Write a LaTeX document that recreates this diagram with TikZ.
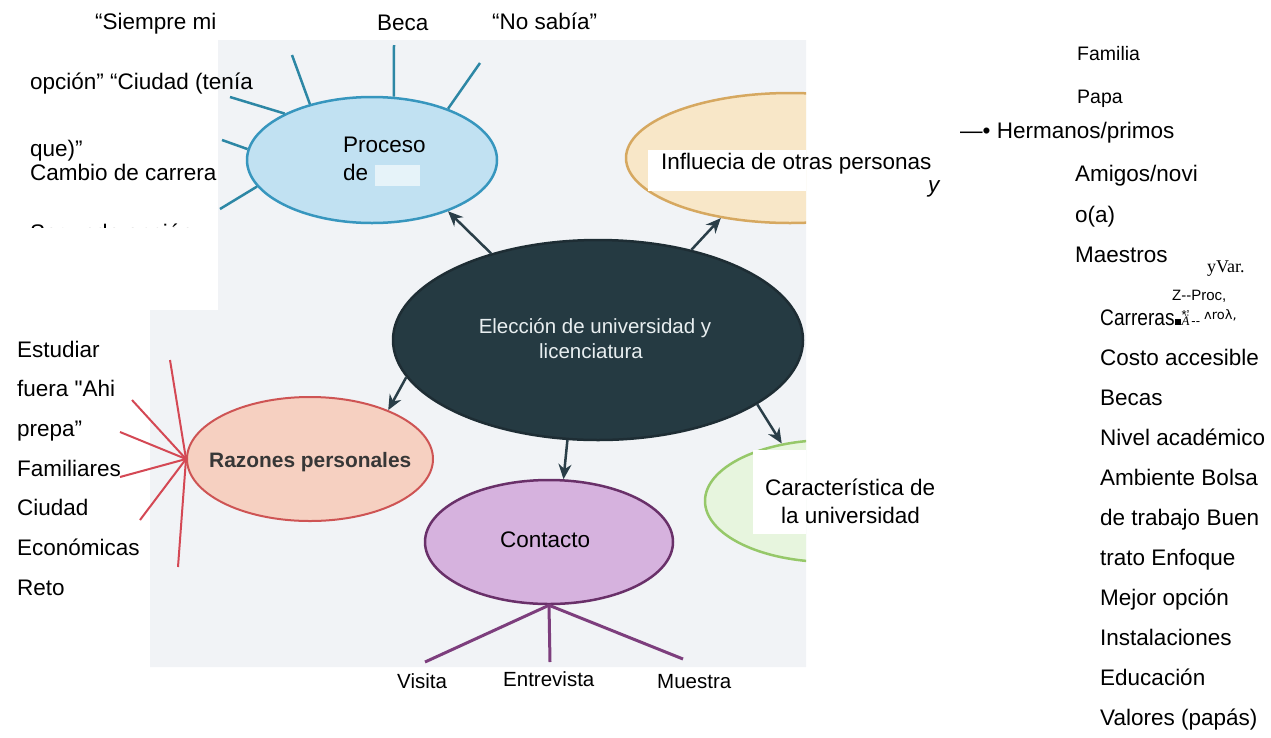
\documentclass[tikz,border=0pt]{standalone}
\usepackage{fontspec}
\setmainfont{Liberation Sans}
\newfontfamily\timesfont{Liberation Serif}
\newfontfamily\dejavufont{DejaVu Sans}
\usetikzlibrary{arrows.meta,shapes.geometric}

\definecolor{scan}{RGB}{241,243,246}
\definecolor{procfill}{RGB}{193,225,242}
\definecolor{procline}{RGB}{55,150,190}
\definecolor{procspk}{RGB}{45,135,165}
\definecolor{inflfill}{RGB}{248,231,200}
\definecolor{inflline}{RGB}{214,168,96}
\definecolor{darkfill}{RGB}{37,58,66}
\definecolor{darkline}{RGB}{30,45,52}
\definecolor{arrowc}{RGB}{42,62,72}
\definecolor{razfill}{RGB}{246,208,193}
\definecolor{razline}{RGB}{206,84,84}
\definecolor{razspk}{RGB}{212,72,84}
\definecolor{contfill}{RGB}{214,178,222}
\definecolor{contline}{RGB}{105,48,105}
\definecolor{contspk}{RGB}{125,62,125}
\definecolor{carfill}{RGB}{231,245,222}
\definecolor{carline}{RGB}{150,200,105}
\definecolor{electext}{RGB}{232,238,240}
\definecolor{raztext}{RGB}{55,55,55}

\tikzset{
  txt/.style={anchor=base west, inner sep=0pt, font=\fontsize{22.5}{27}\selectfont},
  smtxt/.style={txt, font=\fontsize{20.5}{25}\selectfont},
  blob/.style={ellipse, draw, line width=2.5pt, inner sep=0pt},
  conn/.style={line width=2.5pt, draw=arrowc, -{Stealth[length=15pt,width=13pt]}},
}

\begin{document}
\begin{tikzpicture}[x=1pt,y=-1pt]
  \useasboundingbox (0,0) rectangle (1271,737);
  % scanned page behind the map
  \fill[scan] (218,40) -- (806,40) -- (806,667) -- (150,667) -- (150,310) -- (218,310) -- cycle;

  % bubbles
  \node[blob, fill=procfill, draw=procline, minimum width=250pt, minimum height=126pt] (proc) at (372,160) {};
  \node[blob, fill=darkfill, draw=darkline, minimum width=410pt, minimum height=200pt] (elec) at (598,340) {};
  \node[blob, fill=razfill, draw=razline, line width=2pt, minimum width=246pt, minimum height=124pt] (razon) at (310,459) {};
  \node[blob, fill=contfill, draw=contline, minimum width=248pt, minimum height=124pt] (cont) at (549,542) {};
  \begin{scope}
    \clip (0,0) rectangle (806,737);
    \node[blob, fill=inflfill, draw=inflline, minimum width=328pt, minimum height=130pt] (infl) at (790,158) {};
    \node[blob, fill=carfill, draw=carline, minimum width=250pt, minimum height=122pt] (carac) at (830,501) {};
    \fill[white] (648,150) rectangle (806,191);
    \fill[white] (753,450) rectangle (806,534);
  \end{scope}
  \fill[white, opacity=0.6] (375,165) rectangle (420,186);

  % arrows from the centre
  \draw[conn] (elec.141) -- (proc.-34);
  \draw[conn] (elec.44) -- (infl.221);
  \draw[conn] (elec.191) -- (razon.32);
  \draw[conn] (elec.253) -- (cont.77);
  \draw[conn] (elec.-22) -- (carac.130);

  % spokes
  \foreach \a/\ex/\ey [count=\k] in {152/230/97, 138/292/55, 71/394/45, 34/480/63, 175/222/140, 193/220/209} {
    \coordinate (ps\k) at (\ex,\ey);
    \draw[procspk, line width=2.5pt] (proc.\a) -- (ps\k);
  }
  \foreach \ex/\ey [count=\k] in {170/360, 132/400, 120/432, 120/477, 140/520, 178/567} {
    \coordinate (rs\k) at (\ex,\ey);
    \draw[razspk, line width=2pt] (razon.west) -- (rs\k);
  }
  \foreach \ex/\ey [count=\k] in {425/662, 550/662, 683/659} {
    \coordinate (cs\k) at (\ex,\ey);
    \draw[contspk, line width=3pt] (cont.south) -- (cs\k);
  }

  % texts in the bubbles
  \node[txt] (procA) at (343,152) {Proceso};
  \node[txt] (procB) at (343,180) {de};
  \node[txt] (inflT) at (661,169) {Influecia de otras personas};
  \node[txt, font=\fontsize{22.5}{27}\selectfont\itshape] (yT) at (928,192) {y};
  \node[anchor=base, inner sep=0pt, font=\fontsize{20.5}{25}\selectfont, text=electext] (elecA) at (595,333) {Elección de universidad y};
  \node[anchor=base, inner sep=0pt, font=\fontsize{20.5}{25}\selectfont, text=electext] (elecB) at (591,358) {licenciatura};
  \node[txt, font=\fontsize{20.9}{25}\selectfont\bfseries, text=raztext] (razT) at (209,467) {Razones personales};
  \node[txt] (contT) at (500,547) {Contacto};
  \node[txt] (carA) at (765,495) {Característica de};
  \node[txt] (carB) at (781,523) {la universidad};

  % top left
  \node[txt] (siempre) at (95,29) {“Siempre mi};
  \node[txt] (beca) at (377,30) {Beca};
  \node[txt] (nosabia) at (492,29) {“No sabía”};
  \node[txt] (opcion) at (30,89) {opción” “Ciudad (tenía};
  \node[txt] (que) at (30,156) {que)”};
  \node[txt] (cambio) at (30,180) {Cambio de carrera};
  \begin{scope}
    \clip (0,0) rectangle (300,227);
    \node[txt] (segunda) at (30,240) {Segunda opción};
  \end{scope}

  % left
  \foreach \t/\yy [count=\k] in {Estudiar/357, fuera \textquotedbl{}Ahi/396, prepa”/436, Familiares/476, Ciudad/515, Económicas/555, Reto/595}
    \node[txt] (raz\k) at (17,\yy) {\t};

  % bottom
  \node[smtxt] (visita) at (397,688) {Visita};
  \node[smtxt] (entrev) at (503,686) {Entrevista};
  \node[smtxt] (muestra) at (657,688) {Muestra};

  % right, people
  \node[txt, font=\fontsize{19.5}{24}\selectfont] (familia) at (1077,60) {Familia};
  \node[txt, font=\fontsize{19.5}{24}\selectfont] (papa) at (1077,103) {Papa};
  \node[txt] (hermanos) at (960,138) {—• Hermanos/primos};
  \node[txt] (amigos) at (1075,181) {Amigos/novi};
  \node[txt] (oa) at (1075,222) {o(a)};
  \node[txt] (maestros) at (1075,262) {Maestros};
  \node[txt, font=\fontsize{18}{20}\timesfont] (yvar) at (1207,272) {yVar.};
  \node[txt, font=\fontsize{15}{16}\selectfont] (zproc) at (1172,300) {Z-{}-Proc,};

  % right, university
  \node[txt] (carreras) at (1100,325) {\scalebox{0.85}[1]{Carreras}\rule{6pt}{6pt}\hspace{1pt}%
    \fontsize{13}{14}\selectfont\raisebox{6pt}{*'}\hspace{-8pt}{\timesfont\itshape Ä}\hspace{2pt}-{}-\hspace{4pt}%
    \raisebox{6pt}{\dejavufont ʌroλ,}};
  \foreach \t/\yy [count=\k] in {Costo accesible/365, Becas/405, Nivel académico/445, Ambiente Bolsa/485, de trabajo Buen/525, trato Enfoque/565, Mejor opción/605, Instalaciones/645, Educación/685, Valores (papás)/725}
    \node[txt] (uni\k) at (1100,\yy) {\t};
\end{tikzpicture}
\end{document}
